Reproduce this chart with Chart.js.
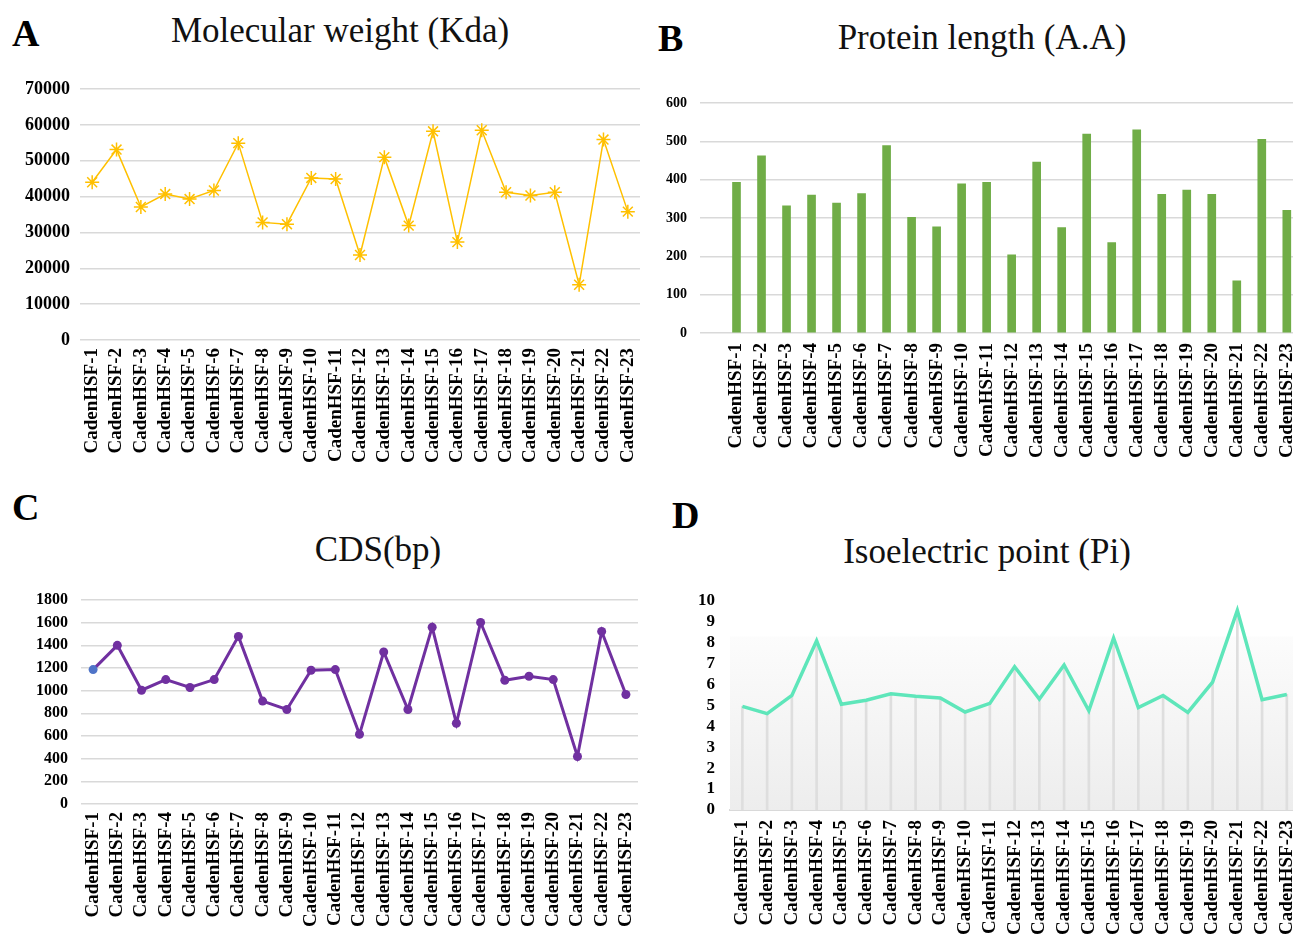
<!DOCTYPE html>
<html>
<head>
<meta charset="utf-8">
<title>CadenHSF gene features</title>
<script src="https://cdn.jsdelivr.net/npm/chart.js"></script>
<style>
  html, body { margin: 0; padding: 0; background: #fff; overflow: hidden; }
  body { width: 1293px; height: 938px; position: relative; font-family: "Liberation Serif", "Times New Roman", serif; }
  .letter { position: absolute; font-weight: bold; font-size: 38px; line-height: 1; color: #000; }
  .title { position: absolute; font-size: 35px; line-height: 1; color: #111; transform: translateX(-50%); white-space: nowrap; }
  canvas { position: absolute; }
</style>
</head>
<body>
  <div class="letter" style="left:12px; top:14px">A</div>
  <div class="title" style="left:340px; top:13px">Molecular weight (Kda)</div>
  <div class="letter" style="left:658px; top:19px">B</div>
  <div class="title" style="left:982px; top:20px">Protein length (A.A)</div>
  <div class="letter" style="left:12px; top:488px">C</div>
  <div class="title" style="left:378px; top:532px">CDS(bp)</div>
  <div class="letter" style="left:672px; top:496px">D</div>
  <div class="title" style="left:987px; top:534px">Isoelectric point (Pi)</div>

  <canvas id="mwChart" width="660" height="410" style="left:0; top:60px"></canvas>
  <canvas id="lenChart" width="680" height="393" style="left:640px; top:70px"></canvas>
  <canvas id="cdsChart" width="660" height="364" style="left:0; top:570px"></canvas>
  <canvas id="piChart" width="670" height="370" style="left:650px; top:570px"></canvas>

<script>
  const genes = [
    "CadenHSF-1", "CadenHSF-2", "CadenHSF-3", "CadenHSF-4", "CadenHSF-5", "CadenHSF-6",
    "CadenHSF-7", "CadenHSF-8", "CadenHSF-9", "CadenHSF-10", "CadenHSF-11", "CadenHSF-12",
    "CadenHSF-13", "CadenHSF-14", "CadenHSF-15", "CadenHSF-16", "CadenHSF-17", "CadenHSF-18",
    "CadenHSF-19", "CadenHSF-20", "CadenHSF-21", "CadenHSF-22", "CadenHSF-23"
  ];
  const molWeight = [44000, 53100, 37100, 40700, 39300, 41700, 54900, 32800, 32300, 45200, 44900, 23700,
                     51000, 31900, 58200, 27300, 58500, 41200, 40300, 41200, 15400, 55900, 35800];
  const protLength = [393, 462, 332, 360, 339, 364, 489, 302, 277, 389, 393, 204,
                      446, 275, 519, 236, 530, 362, 373, 362, 136, 505, 320];
  const cdsLength = [1186, 1400, 1004, 1098, 1028, 1098, 1479, 908, 834, 1180, 1186, 615,
                     1341, 834, 1560, 712, 1602, 1092, 1127, 1098, 419, 1523, 966];
  const isoPoint = [4.96, 4.61, 5.48, 8.1, 5.06, 5.25, 5.56, 5.44, 5.36, 4.69, 5.1, 6.86,
                    5.31, 6.94, 4.75, 8.23, 4.9, 5.48, 4.67, 6.12, 9.55, 5.28, 5.53];

  // y ranges / steps as printed on each panel
  const mwTicks = { max: 70000, step: 10000 };
  const lenTicks = { max: 600, step: 100 };
  const cdsTicks = { max: 1800, step: 200 };
  const piTicks = { max: 10, step: 1 };
  const piShadeFrom = 8.3;

  Chart.defaults.font.family = "'Liberation Serif', 'Times New Roman', serif";
  Chart.defaults.color = "#000";

  function opts(o) {
    return {
      responsive: false,
      animation: false,
      layout: { padding: o.padding },
      plugins: { legend: { display: false }, tooltip: { enabled: false } },
      scales: {
        x: {
          offset: true,
          grid: { display: false, drawTicks: false },
          border: o.xBorder || { display: false },
          afterFit: s => { s.height = 130; },
          ticks: { autoSkip: false, maxRotation: 90, minRotation: 90, padding: o.xPad,
                   font: { size: 19, weight: "bold" } }
        },
        y: {
          min: 0, max: o.ticks.max,
          afterFit: s => { s.width = o.yWidth; },
          border: { display: false },
          grid: { display: o.yGrid !== false, color: "#d9d9d9", lineWidth: 1.5,
                  drawTicks: !!o.tickLen, tickLength: o.tickLen || 0 },
          ticks: { stepSize: o.ticks.step, autoSkip: false, padding: o.yPad,
                   callback: v => String(v), font: { size: o.yFont, weight: "bold" } }
        }
      }
    };
  }

  // light grey gradient behind the lower part of the pI plot
  const plotShade = {
    id: "plotShade",
    beforeDatasetsDraw(chart, args, o) {
      const { ctx, chartArea } = chart;
      const top = chart.scales.y.getPixelForValue(o.from);
      const g = ctx.createLinearGradient(0, top, 0, chartArea.bottom);
      g.addColorStop(0, "#fcfcfc");
      g.addColorStop(1, "#ededed");
      ctx.save();
      ctx.fillStyle = g;
      ctx.fillRect(chartArea.left, top, chartArea.right - chartArea.left, chartArea.bottom - top);
      ctx.restore();
    }
  };

  new Chart(document.getElementById("mwChart"), {
    type: "line",
    data: {
      labels: genes,
      datasets: [{
        data: molWeight, borderColor: "#ffc000", borderWidth: 1.5, tension: 0,
        pointStyle: "star", pointRadius: 7, pointBorderColor: "#ffc000", pointBorderWidth: 1.5
      }]
    },
    options: opts({ padding: { top: 29, right: 20, left: 0, bottom: 0 }, yWidth: 80, yPad: 10,
                    yFont: 18, xPad: 8, ticks: mwTicks })
  });

  new Chart(document.getElementById("lenChart"), {
    type: "bar",
    data: {
      labels: genes,
      datasets: [{ data: protLength, backgroundColor: "#70ad47", barThickness: 8 }]
    },
    options: opts({ padding: { top: 33, right: 18, left: 0, bottom: 0 }, yWidth: 84, yPad: 13,
                    tickLen: 24, yFont: 14, xPad: 10, ticks: lenTicks })
  });

  new Chart(document.getElementById("cdsChart"), {
    type: "line",
    data: {
      labels: genes,
      datasets: [{
        data: cdsLength, borderColor: "#7030a0", borderWidth: 3, tension: 0,
        pointRadius: 4.5, pointBorderWidth: 0,
        pointBackgroundColor: c => c.dataIndex === 0 ? "#4f74c8" : "#7030a0"
      }]
    },
    options: opts({ padding: { top: 30, right: 22, left: 0, bottom: 0 }, yWidth: 81, yPad: 13,
                    yFont: 16, xPad: 8, ticks: cdsTicks })
  });

  new Chart(document.getElementById("piChart"), {
    type: "line",
    plugins: [plotShade],
    data: {
      labels: genes,
      datasets: [
        { type: "line", data: isoPoint, borderColor: "#5ee6ba", borderWidth: 3.5, tension: 0,
          pointRadius: 0, order: 1 },
        { type: "bar", data: isoPoint, backgroundColor: "#dedede", barThickness: 2, order: 2 }
      ]
    },
    options: (() => {
      const o = opts({ padding: { top: 31, right: 17, left: 0, bottom: 0 }, yWidth: 80, yPad: 15,
                       yFont: 17, xPad: 10, ticks: piTicks, yGrid: false,
                       xBorder: { display: true, color: "#d9d9d9", width: 2 } });
      o.plugins.plotShade = { from: piShadeFrom };
      return o;
    })()
  });
</script>
</body>
</html>
